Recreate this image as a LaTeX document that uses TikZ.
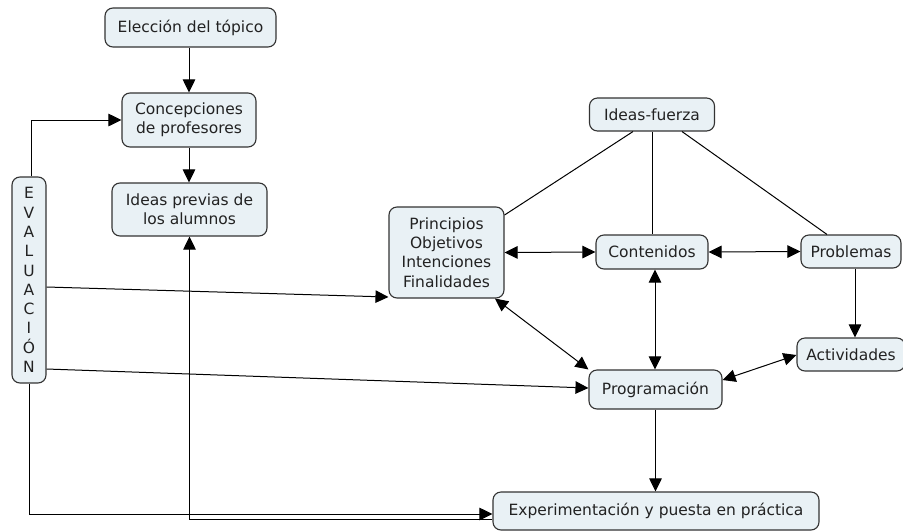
\documentclass[tikz,border=0pt]{standalone}
\usepackage{fontspec}
\setmainfont{DejaVu Sans}
\usetikzlibrary{arrows.meta}
\definecolor{boxfill}{HTML}{E9F1F5}
\definecolor{boxline}{HTML}{333333}
\definecolor{txt}{HTML}{222222}
\begin{document}
\begin{tikzpicture}[x=1pt,y=-1pt,
  box/.style={draw=boxline, fill=boxfill, rounded corners=8pt, line width=1.1pt, text=txt, align=center, inner sep=0pt, font=\fontsize{15.5}{19.3}\selectfont},
  arr/.style={-{Triangle[length=13pt,width=12.5pt]}, line width=1pt},
  darr/.style={{Triangle[length=13pt,width=12.5pt]}-{Triangle[length=13pt,width=12.5pt]}, line width=1pt},
  ln/.style={line width=1pt}]
\useasboundingbox (0,0) rectangle (903,531);
\node[box, minimum width=171pt, minimum height=39pt] (elec) at (190.5,27.5) {Elección del tópico};
\node[box, minimum width=134pt, minimum height=54pt] (conc) at (189,120) {Concepciones\\de profesores};
\node[box, minimum width=155pt, minimum height=53pt] (prev) at (189.5,209.5) {Ideas previas de\\los alumnos};
\node[box, minimum width=34pt, minimum height=206pt] (eval) at (29,280) {E\\V\\A\\L\\U\\A\\C\\I\\Ó\\N};
\node[box, minimum width=115pt, minimum height=91pt] (princ) at (446.5,252.5) {Principios\\Objetivos\\Intenciones\\Finalidades};
\node[box, minimum width=125pt, minimum height=33pt] (ifz) at (652,114.5) {Ideas-fuerza};
\node[box, minimum width=112pt, minimum height=34pt] (cont) at (652,252) {Contenidos};
\node[box, minimum width=100pt, minimum height=33pt] (prob) at (851,251.5) {Problemas};
\node[box, minimum width=108pt, minimum height=33pt] (act) at (851,354.5) {Actividades};
\node[box, minimum width=133pt, minimum height=39pt] (prog) at (655.5,389.5) {Programación};
\node[box, minimum width=326pt, minimum height=38pt] (exp) at (656,511) {Experimentación y puesta en práctica};

\draw[arr] (elec.south -| conc.north) -- (conc.north);
\draw[arr] (conc.south) -- (prev.north -| conc.south);
\draw[arr] ([xshift=2pt]eval.north) |- (conc.west);
\draw[arr] (eval.east |- 0,287) -- (princ.west |- 0,297);
\draw[arr] (eval.east |- 0,369) -- (prog.west |- 0,388);
\draw[arr] (eval.south) |- (exp.west |- 0,514);
\draw[arr] (exp.west |- 0,519) -| (prev.south);

\draw[ln] (ifz.south -| 633,0) -- (princ.east |- 0,215);
\draw[ln] (ifz.south) -- (cont.north);
\draw[ln] (ifz.south -| 682,0) -- (prob.north -| 827,0);

\draw[darr] (princ.east) -- (cont.west);
\draw[darr] (cont.east) -- (prob.west);
\draw[arr] (prob.south -| 855,0) -- (act.north -| 855,0);
\draw[darr] (prog.east |- 0,380) -- (act.west |- 0,355);
\draw[darr] (princ.south -| 495,0) -- (prog.north west);
\draw[darr] (cont.south -| 655,0) -- (prog.north -| 655,0);
\draw[arr] (prog.south) -- (exp.north -| prog.south);
\end{tikzpicture}
\end{document}
